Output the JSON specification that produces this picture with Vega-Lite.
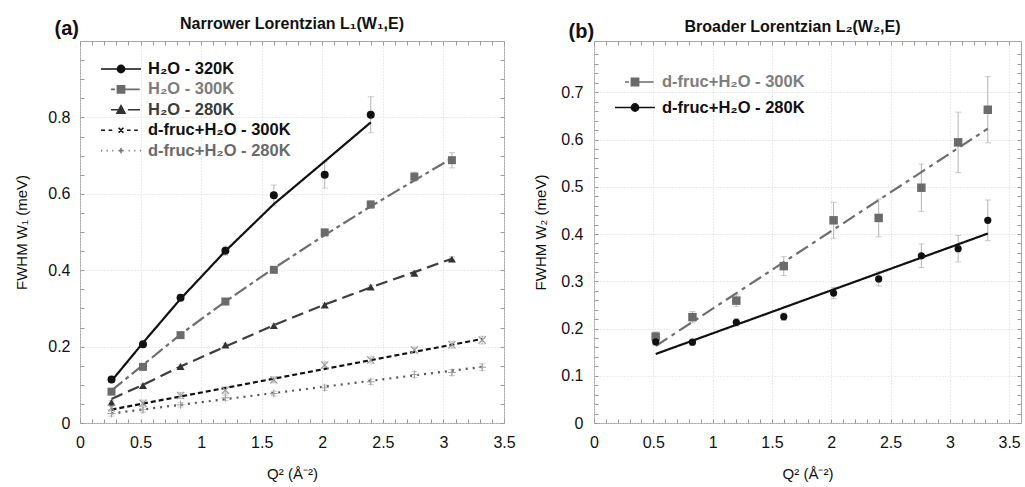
{
  "$schema": "https://vega.github.io/schema/vega-lite/v6.json",
  "padding": {"left": 14, "top": 15, "right": 0, "bottom": 0},
  "spacing": 17,
  "datasets": {
    "a_pts": [
      {"s": "H₂O - 320K", "q": 0.26, "w": 0.114, "lo": 0.108, "hi": 0.120},
      {"s": "H₂O - 320K", "q": 0.52, "w": 0.206, "lo": 0.198, "hi": 0.214},
      {"s": "H₂O - 320K", "q": 0.83, "w": 0.328, "lo": 0.320, "hi": 0.336},
      {"s": "H₂O - 320K", "q": 1.2, "w": 0.451, "lo": 0.439, "hi": 0.463},
      {"s": "H₂O - 320K", "q": 1.6, "w": 0.596, "lo": 0.569, "hi": 0.623},
      {"s": "H₂O - 320K", "q": 2.02, "w": 0.650, "lo": 0.615, "hi": 0.685},
      {"s": "H₂O - 320K", "q": 2.4, "w": 0.807, "lo": 0.760, "hi": 0.854},
      {"s": "H₂O - 300K", "q": 0.26, "w": 0.082, "lo": 0.077, "hi": 0.087},
      {"s": "H₂O - 300K", "q": 0.52, "w": 0.147, "lo": 0.142, "hi": 0.152},
      {"s": "H₂O - 300K", "q": 0.83, "w": 0.230, "lo": 0.224, "hi": 0.236},
      {"s": "H₂O - 300K", "q": 1.2, "w": 0.318, "lo": 0.310, "hi": 0.326},
      {"s": "H₂O - 300K", "q": 1.6, "w": 0.401, "lo": 0.393, "hi": 0.409},
      {"s": "H₂O - 300K", "q": 2.02, "w": 0.499, "lo": 0.491, "hi": 0.507},
      {"s": "H₂O - 300K", "q": 2.4, "w": 0.572, "lo": 0.562, "hi": 0.582},
      {"s": "H₂O - 300K", "q": 2.76, "w": 0.645, "lo": 0.633, "hi": 0.657},
      {"s": "H₂O - 300K", "q": 3.07, "w": 0.688, "lo": 0.668, "hi": 0.708},
      {"s": "H₂O - 280K", "q": 0.26, "w": 0.054, "lo": 0.050, "hi": 0.058},
      {"s": "H₂O - 280K", "q": 0.52, "w": 0.098, "lo": 0.094, "hi": 0.102},
      {"s": "H₂O - 280K", "q": 0.83, "w": 0.148, "lo": 0.144, "hi": 0.152},
      {"s": "H₂O - 280K", "q": 1.2, "w": 0.204, "lo": 0.199, "hi": 0.209},
      {"s": "H₂O - 280K", "q": 1.6, "w": 0.255, "lo": 0.250, "hi": 0.260},
      {"s": "H₂O - 280K", "q": 2.02, "w": 0.309, "lo": 0.304, "hi": 0.314},
      {"s": "H₂O - 280K", "q": 2.4, "w": 0.356, "lo": 0.351, "hi": 0.361},
      {"s": "H₂O - 280K", "q": 2.76, "w": 0.392, "lo": 0.386, "hi": 0.398},
      {"s": "H₂O - 280K", "q": 3.07, "w": 0.429, "lo": 0.423, "hi": 0.435},
      {"s": "d-fruc+H₂O - 300K", "q": 0.26, "w": 0.040, "lo": 0.032, "hi": 0.048},
      {"s": "d-fruc+H₂O - 300K", "q": 0.52, "w": 0.052, "lo": 0.044, "hi": 0.060},
      {"s": "d-fruc+H₂O - 300K", "q": 0.83, "w": 0.072, "lo": 0.064, "hi": 0.080},
      {"s": "d-fruc+H₂O - 300K", "q": 1.2, "w": 0.086, "lo": 0.078, "hi": 0.094},
      {"s": "d-fruc+H₂O - 300K", "q": 1.6, "w": 0.113, "lo": 0.105, "hi": 0.121},
      {"s": "d-fruc+H₂O - 300K", "q": 2.02, "w": 0.152, "lo": 0.144, "hi": 0.160},
      {"s": "d-fruc+H₂O - 300K", "q": 2.4, "w": 0.165, "lo": 0.157, "hi": 0.173},
      {"s": "d-fruc+H₂O - 300K", "q": 2.76, "w": 0.191, "lo": 0.183, "hi": 0.199},
      {"s": "d-fruc+H₂O - 300K", "q": 3.07, "w": 0.205, "lo": 0.196, "hi": 0.214},
      {"s": "d-fruc+H₂O - 300K", "q": 3.32, "w": 0.217, "lo": 0.207, "hi": 0.227},
      {"s": "d-fruc+H₂O - 280K", "q": 0.26, "w": 0.025, "lo": 0.018, "hi": 0.032},
      {"s": "d-fruc+H₂O - 280K", "q": 0.52, "w": 0.035, "lo": 0.028, "hi": 0.042},
      {"s": "d-fruc+H₂O - 280K", "q": 0.83, "w": 0.048, "lo": 0.042, "hi": 0.054},
      {"s": "d-fruc+H₂O - 280K", "q": 1.2, "w": 0.066, "lo": 0.059, "hi": 0.073},
      {"s": "d-fruc+H₂O - 280K", "q": 1.6, "w": 0.077, "lo": 0.071, "hi": 0.083},
      {"s": "d-fruc+H₂O - 280K", "q": 2.02, "w": 0.092, "lo": 0.085, "hi": 0.099},
      {"s": "d-fruc+H₂O - 280K", "q": 2.4, "w": 0.108, "lo": 0.101, "hi": 0.115},
      {"s": "d-fruc+H₂O - 280K", "q": 2.76, "w": 0.127, "lo": 0.119, "hi": 0.135},
      {"s": "d-fruc+H₂O - 280K", "q": 3.07, "w": 0.132, "lo": 0.124, "hi": 0.140},
      {"s": "d-fruc+H₂O - 280K", "q": 3.32, "w": 0.146, "lo": 0.137, "hi": 0.155}
    ],
    "a_fit": [
      {"s": "H₂O - 320K", "q": 0.26, "w": 0.11},
      {"s": "H₂O - 320K", "q": 0.52, "w": 0.21},
      {"s": "H₂O - 320K", "q": 0.83, "w": 0.325},
      {"s": "H₂O - 320K", "q": 1.2, "w": 0.45},
      {"s": "H₂O - 320K", "q": 1.6, "w": 0.573},
      {"s": "H₂O - 320K", "q": 2.02, "w": 0.685},
      {"s": "H₂O - 320K", "q": 2.4, "w": 0.787},
      {"s": "H₂O - 300K", "q": 0.26, "w": 0.085},
      {"s": "H₂O - 300K", "q": 0.52, "w": 0.152},
      {"s": "H₂O - 300K", "q": 0.83, "w": 0.232},
      {"s": "H₂O - 300K", "q": 1.2, "w": 0.318},
      {"s": "H₂O - 300K", "q": 1.6, "w": 0.405},
      {"s": "H₂O - 300K", "q": 2.02, "w": 0.492},
      {"s": "H₂O - 300K", "q": 2.4, "w": 0.567},
      {"s": "H₂O - 300K", "q": 2.76, "w": 0.635},
      {"s": "H₂O - 300K", "q": 3.07, "w": 0.693},
      {"s": "H₂O - 280K", "q": 0.26, "w": 0.063},
      {"s": "H₂O - 280K", "q": 0.52, "w": 0.1},
      {"s": "H₂O - 280K", "q": 0.83, "w": 0.148},
      {"s": "H₂O - 280K", "q": 1.2, "w": 0.2},
      {"s": "H₂O - 280K", "q": 1.6, "w": 0.256},
      {"s": "H₂O - 280K", "q": 2.02, "w": 0.31},
      {"s": "H₂O - 280K", "q": 2.4, "w": 0.355},
      {"s": "H₂O - 280K", "q": 2.76, "w": 0.395},
      {"s": "H₂O - 280K", "q": 3.07, "w": 0.43},
      {"s": "d-fruc+H₂O - 300K", "q": 0.26, "w": 0.035},
      {"s": "d-fruc+H₂O - 300K", "q": 3.32, "w": 0.22},
      {"s": "d-fruc+H₂O - 280K", "q": 0.26, "w": 0.025},
      {"s": "d-fruc+H₂O - 280K", "q": 3.32, "w": 0.147}
    ],
    "b_pts": [
      {"s": "d-fruc+H₂O - 300K", "q": 0.52, "w": 0.183, "lo": 0.173, "hi": 0.193},
      {"s": "d-fruc+H₂O - 300K", "q": 0.83, "w": 0.224, "lo": 0.212, "hi": 0.236},
      {"s": "d-fruc+H₂O - 300K", "q": 1.2, "w": 0.259, "lo": 0.247, "hi": 0.271},
      {"s": "d-fruc+H₂O - 300K", "q": 1.6, "w": 0.332, "lo": 0.312, "hi": 0.352},
      {"s": "d-fruc+H₂O - 300K", "q": 2.02, "w": 0.429, "lo": 0.391, "hi": 0.467},
      {"s": "d-fruc+H₂O - 300K", "q": 2.4, "w": 0.434, "lo": 0.394, "hi": 0.474},
      {"s": "d-fruc+H₂O - 300K", "q": 2.76, "w": 0.498, "lo": 0.448, "hi": 0.548},
      {"s": "d-fruc+H₂O - 300K", "q": 3.07, "w": 0.594, "lo": 0.530, "hi": 0.658},
      {"s": "d-fruc+H₂O - 300K", "q": 3.32, "w": 0.663, "lo": 0.593, "hi": 0.733},
      {"s": "d-fruc+H₂O - 280K", "q": 0.52, "w": 0.172, "lo": 0.164, "hi": 0.180},
      {"s": "d-fruc+H₂O - 280K", "q": 0.83, "w": 0.171, "lo": 0.165, "hi": 0.177},
      {"s": "d-fruc+H₂O - 280K", "q": 1.2, "w": 0.213, "lo": 0.205, "hi": 0.221},
      {"s": "d-fruc+H₂O - 280K", "q": 1.6, "w": 0.225, "lo": 0.217, "hi": 0.233},
      {"s": "d-fruc+H₂O - 280K", "q": 2.02, "w": 0.275, "lo": 0.263, "hi": 0.287},
      {"s": "d-fruc+H₂O - 280K", "q": 2.4, "w": 0.305, "lo": 0.290, "hi": 0.320},
      {"s": "d-fruc+H₂O - 280K", "q": 2.76, "w": 0.354, "lo": 0.329, "hi": 0.379},
      {"s": "d-fruc+H₂O - 280K", "q": 3.07, "w": 0.369, "lo": 0.341, "hi": 0.397},
      {"s": "d-fruc+H₂O - 280K", "q": 3.32, "w": 0.429, "lo": 0.386, "hi": 0.472}
    ],
    "b_fit": [
      {"s": "d-fruc+H₂O - 300K", "q": 0.52, "w": 0.163},
      {"s": "d-fruc+H₂O - 300K", "q": 3.32, "w": 0.623},
      {"s": "d-fruc+H₂O - 280K", "q": 0.52, "w": 0.146},
      {"s": "d-fruc+H₂O - 280K", "q": 3.32, "w": 0.401}
    ]
  },
  "hconcat": [
    {
      "width": 424,
      "height": 382,
      "title": {"text": "Narrower Lorentzian L₁(W₁,E)", "frame": "group", "anchor": "middle", "offset": -14},
      "layer": [
        {
          "data": {"name": "a_pts"},
          "mark": {"type": "errorbar", "ticks": true, "size": 6, "thickness": 1, "color": "#b3b3b3"},
          "encoding": {
            "x": {"field": "q", "type": "quantitative", "scale": {"domain": [0, 3.5], "nice": false, "zero": false},
              "axis": {"orient": "bottom", "values": [0, 0.5, 1, 1.5, 2, 2.5, 3, 3.5], "format": "~g", "grid": true, "labelPadding": 11, "title": "Q² (Å⁻²)", "titlePadding": 16}},
            "y": {"field": "lo", "type": "quantitative", "scale": {"domain": [0, 1], "nice": false},
              "axis": {"orient": "left", "values": [0, 0.2, 0.4, 0.6, 0.8], "format": "~g", "grid": true, "labelPadding": 10, "title": "FWHM W₁ (meV)", "titlePadding": 18}},
            "y2": {"field": "hi"}
          }
        },
        {
          "data": {"name": "a_fit"},
          "mark": {"type": "line", "strokeWidth": 2.2},
          "encoding": {
            "x": {"field": "q", "type": "quantitative",
              "axis": {"orient": "bottom", "offset": -4, "values": [0,0.1,0.2,0.3,0.4,0.5,0.6,0.7,0.8,0.9,1,1.1,1.2,1.3,1.4,1.5,1.6,1.7,1.8,1.9,2,2.1,2.2,2.3,2.4,2.5,2.6,2.7,2.8,2.9,3,3.1,3.2,3.3,3.4,3.5], "labels": false, "ticks": true, "tickSize": 4, "title": null}},
            "y": {"field": "w", "type": "quantitative",
              "axis": {"orient": "left", "offset": -4, "values": [0,0.05,0.1,0.15,0.2,0.25,0.3,0.35,0.4,0.45,0.5,0.55,0.6,0.65,0.7,0.75,0.8,0.85,0.9,0.95], "labels": false, "ticks": true, "tickSize": 4,
                "title": "(a)", "titleAngle": 0, "titleAlign": "left", "titleBaseline": "alphabetic", "titleX": -30, "titleY": -7, "titleFontSize": 20, "titleFontWeight": "bold"}},
            "color": {"field": "s", "type": "nominal", "legend": null,
              "scale": {"domain": ["H₂O - 320K", "H₂O - 300K", "H₂O - 280K", "d-fruc+H₂O - 300K", "d-fruc+H₂O - 280K"], "range": ["#111111", "#6e6e6e", "#3d3d3d", "#111111", "#555555"]}},
            "strokeDash": {"field": "s", "type": "nominal", "legend": null,
              "scale": {"domain": ["H₂O - 320K", "H₂O - 300K", "H₂O - 280K", "d-fruc+H₂O - 300K", "d-fruc+H₂O - 280K"], "range": [[1, 0], [14, 4, 4, 4], [12, 6], [5, 3], [2, 5]]}}
          }
        },
        {
          "data": {"name": "a_pts"},
          "mark": {"type": "point", "filled": true, "opacity": 1, "size": 64},
          "encoding": {
            "x": {"field": "q", "type": "quantitative",
              "axis": {"orient": "top", "offset": -4, "values": [0,0.1,0.2,0.3,0.4,0.5,0.6,0.7,0.8,0.9,1,1.1,1.2,1.3,1.4,1.5,1.6,1.7,1.8,1.9,2,2.1,2.2,2.3,2.4,2.5,2.6,2.7,2.8,2.9,3,3.1,3.2,3.3,3.4,3.5], "labels": false, "ticks": true, "tickSize": 4, "title": null}},
            "y": {"field": "w", "type": "quantitative",
              "axis": {"orient": "right", "offset": -4, "values": [0,0.05,0.1,0.15,0.2,0.25,0.3,0.35,0.4,0.45,0.5,0.55,0.6,0.65,0.7,0.75,0.8,0.85,0.9,0.95], "labels": false, "ticks": true, "tickSize": 4, "title": null}},
            "color": {"field": "s", "type": "nominal", "legend": null,
              "scale": {"domain": ["H₂O - 320K", "H₂O - 300K", "H₂O - 280K", "d-fruc+H₂O - 300K", "d-fruc+H₂O - 280K"], "range": ["#111111", "#6b6b6b", "#333333", "#9a9a9a", "#a0a0a0"]}},
            "shape": {"field": "s", "type": "nominal", "legend": null,
              "scale": {"domain": ["H₂O - 320K", "H₂O - 300K", "H₂O - 280K", "d-fruc+H₂O - 300K", "d-fruc+H₂O - 280K"],
                "range": ["circle", "square", "triangle-up", "M-1,-0.8L-0.8,-1L0,-0.2L0.8,-1L1,-0.8L0.2,0L1,0.8L0.8,1L0,0.2L-0.8,1L-1,0.8L-0.2,0Z", "M-1,-0.12H-0.12V-1H0.12V-0.12H1V0.12H0.12V1H-0.12V0.12H-1Z"]}}
          }
        },
        {
          "data": {"name": "a_fit"},
          "mark": {"type": "point", "filled": true, "opacity": 0, "size": 1600},
          "encoding": {
            "x": {"field": "q", "type": "quantitative", "axis": null},
            "y": {"field": "w", "type": "quantitative", "axis": null},
            "shape": {"field": "s", "type": "nominal",
              "scale": {"domain": ["H₂O - 320K", "H₂O - 300K", "H₂O - 280K", "d-fruc+H₂O - 300K", "d-fruc+H₂O - 280K"],
                "range": [
                  "M-1,0H1M-0.18,0A0.18,0.18,0,1,1,0.18,0A0.18,0.18,0,1,1,-0.18,0Z",
                  "M-0.5,0H-0.3M-0.18,-0.18H0.18V0.18H-0.18ZM0.18,0H0.93",
                  "M-0.5,0H-0.15M-0.2,0.17L0,-0.2L0.2,0.17ZM0.35,0H0.95",
                  "M-1,0H-0.8M-0.62,0H-0.44M-0.12,-0.12L0.12,0.12M-0.12,0.12L0.12,-0.12M0.3,0H0.48M0.66,0H0.84",
                  "M-1,0H-0.94M-0.72,0H-0.66M-0.44,0H-0.38M-0.13,0H0.13M0,-0.13V0.13M0.38,0H0.44M0.66,0H0.72M0.94,0H1"
                ]},
              "legend": {"orient": "none", "legendX": 20, "legendY": 19, "title": null, "symbolSize": 1600, "symbolStrokeWidth": 1.6, "symbolOpacity": 1,
                "labelFontSize": 16.5, "labelFontWeight": "bold", "labelOffset": 6, "clipHeight": 18, "rowPadding": 2.4,
                "labelColor": {"expr": "datum.value == 'H₂O - 300K' ? '#7d7d7d' : datum.value == 'H₂O - 280K' ? '#3c3c3c' : datum.value == 'd-fruc+H₂O - 280K' ? '#6a6a6a' : '#111111'"}}},
            "fill": {"field": "s", "type": "nominal",
              "scale": {"domain": ["H₂O - 320K", "H₂O - 300K", "H₂O - 280K", "d-fruc+H₂O - 300K", "d-fruc+H₂O - 280K"], "range": ["#111111", "#6b6b6b", "#333333", "#111111", "#777777"]}},
            "stroke": {"field": "s", "type": "nominal",
              "scale": {"domain": ["H₂O - 320K", "H₂O - 300K", "H₂O - 280K", "d-fruc+H₂O - 300K", "d-fruc+H₂O - 280K"], "range": ["#111111", "#6b6b6b", "#333333", "#111111", "#777777"]}}
          }
        }
      ],
      "resolve": {"scale": {"color": "independent", "shape": "independent", "strokeDash": "independent", "fill": "independent", "stroke": "independent"}, "axis": {"x": "independent", "y": "independent"}}
    },
    {
      "width": 427,
      "height": 382,
      "title": {"text": "Broader Lorentzian L₂(W₂,E)", "frame": "group", "anchor": "middle", "offset": -14, "dx": -15},
      "layer": [
        {
          "data": {"name": "b_pts"},
          "mark": {"type": "errorbar", "ticks": true, "size": 6, "thickness": 1, "color": "#b3b3b3"},
          "encoding": {
            "x": {"field": "q", "type": "quantitative", "scale": {"domain": [0, 3.6], "nice": false, "zero": false},
              "axis": {"orient": "bottom", "values": [0, 0.5, 1, 1.5, 2, 2.5, 3, 3.5], "format": "~g", "grid": true, "labelPadding": 11, "title": "Q² (Å⁻²)", "titlePadding": 16}},
            "y": {"field": "lo", "type": "quantitative", "scale": {"domain": [0, 0.8085], "nice": false},
              "axis": {"orient": "left", "values": [0, 0.1, 0.2, 0.3, 0.4, 0.5, 0.6, 0.7], "format": "~g", "grid": true, "labelPadding": 11, "title": "FWHM W₂ (meV)", "titlePadding": 12}},
            "y2": {"field": "hi"}
          }
        },
        {
          "data": {"name": "b_fit"},
          "mark": {"type": "line", "strokeWidth": 2.2},
          "encoding": {
            "x": {"field": "q", "type": "quantitative",
              "axis": {"orient": "bottom", "offset": -4, "values": [0,0.1,0.2,0.3,0.4,0.5,0.6,0.7,0.8,0.9,1,1.1,1.2,1.3,1.4,1.5,1.6,1.7,1.8,1.9,2,2.1,2.2,2.3,2.4,2.5,2.6,2.7,2.8,2.9,3,3.1,3.2,3.3,3.4,3.5], "labels": false, "ticks": true, "tickSize": 4, "title": null}},
            "y": {"field": "w", "type": "quantitative",
              "axis": {"orient": "left", "offset": -4, "values": [0,0.02,0.04,0.06,0.08,0.1,0.12,0.14,0.16,0.18,0.2,0.22,0.24,0.26,0.28,0.3,0.32,0.34,0.36,0.38,0.4,0.42,0.44,0.46,0.48,0.5,0.52,0.54,0.56,0.58,0.6,0.62,0.64,0.66,0.68,0.7,0.72,0.74,0.76,0.78], "labels": false, "ticks": true, "tickSize": 4,
                "title": "(b)", "titleAngle": 0, "titleAlign": "left", "titleBaseline": "alphabetic", "titleX": -30, "titleY": -4, "titleFontSize": 20, "titleFontWeight": "bold"}},
            "color": {"field": "s", "type": "nominal", "legend": null,
              "scale": {"domain": ["d-fruc+H₂O - 300K", "d-fruc+H₂O - 280K"], "range": ["#6e6e6e", "#111111"]}},
            "strokeDash": {"field": "s", "type": "nominal", "legend": null,
              "scale": {"domain": ["d-fruc+H₂O - 300K", "d-fruc+H₂O - 280K"], "range": [[14, 5, 4, 5], [1, 0]]}}
          }
        },
        {
          "data": {"name": "b_pts"},
          "mark": {"type": "point", "filled": true, "opacity": 1},
          "encoding": {
            "x": {"field": "q", "type": "quantitative",
              "axis": {"orient": "top", "offset": -4, "values": [0,0.1,0.2,0.3,0.4,0.5,0.6,0.7,0.8,0.9,1,1.1,1.2,1.3,1.4,1.5,1.6,1.7,1.8,1.9,2,2.1,2.2,2.3,2.4,2.5,2.6,2.7,2.8,2.9,3,3.1,3.2,3.3,3.4,3.5], "labels": false, "ticks": true, "tickSize": 4, "title": null}},
            "y": {"field": "w", "type": "quantitative",
              "axis": {"orient": "right", "offset": -4, "values": [0,0.02,0.04,0.06,0.08,0.1,0.12,0.14,0.16,0.18,0.2,0.22,0.24,0.26,0.28,0.3,0.32,0.34,0.36,0.38,0.4,0.42,0.44,0.46,0.48,0.5,0.52,0.54,0.56,0.58,0.6,0.62,0.64,0.66,0.68,0.7,0.72,0.74,0.76,0.78], "labels": false, "ticks": true, "tickSize": 4, "title": null}},
            "color": {"field": "s", "type": "nominal", "legend": null,
              "scale": {"domain": ["d-fruc+H₂O - 300K", "d-fruc+H₂O - 280K"], "range": ["#6b6b6b", "#111111"]}},
            "shape": {"field": "s", "type": "nominal", "legend": null,
              "scale": {"domain": ["d-fruc+H₂O - 300K", "d-fruc+H₂O - 280K"], "range": ["square", "circle"]}},
            "size": {"field": "s", "type": "nominal", "legend": null,
              "scale": {"domain": ["d-fruc+H₂O - 300K", "d-fruc+H₂O - 280K"], "range": [72, 52]}}
          }
        },
        {
          "data": {"name": "b_fit"},
          "mark": {"type": "point", "filled": true, "opacity": 0, "size": 1600},
          "encoding": {
            "x": {"field": "q", "type": "quantitative", "axis": null},
            "y": {"field": "w", "type": "quantitative", "axis": null},
            "shape": {"field": "s", "type": "nominal",
              "scale": {"domain": ["d-fruc+H₂O - 300K", "d-fruc+H₂O - 280K"],
                "range": [
                  "M-0.5,0H-0.3M-0.18,-0.18H0.18V0.18H-0.18ZM0.18,0H0.93",
                  "M-1,0H1M-0.18,0A0.18,0.18,0,1,1,0.18,0A0.18,0.18,0,1,1,-0.18,0Z"
                ]},
              "legend": {"orient": "none", "legendX": 20, "legendY": 31, "title": null, "symbolSize": 1600, "symbolStrokeWidth": 1.6, "symbolOpacity": 1,
                "labelFontSize": 16.5, "labelFontWeight": "bold", "labelOffset": 6, "clipHeight": 20, "rowPadding": 5.5,
                "labelColor": {"expr": "datum.value == 'd-fruc+H₂O - 300K' ? '#7d7d7d' : '#111111'"}}},
            "fill": {"field": "s", "type": "nominal",
              "scale": {"domain": ["d-fruc+H₂O - 300K", "d-fruc+H₂O - 280K"], "range": ["#6b6b6b", "#111111"]}},
            "stroke": {"field": "s", "type": "nominal",
              "scale": {"domain": ["d-fruc+H₂O - 300K", "d-fruc+H₂O - 280K"], "range": ["#6b6b6b", "#111111"]}}
          }
        }
      ],
      "resolve": {"scale": {"color": "independent", "shape": "independent", "strokeDash": "independent", "fill": "independent", "stroke": "independent", "size": "independent"}, "axis": {"x": "independent", "y": "independent"}}
    }
  ],
  "config": {
    "font": "Liberation Sans",
    "view": {"stroke": "#a6a6a6", "strokeWidth": 1},
    "axis": {"labelFontSize": 16, "labelColor": "#111111", "titleFontSize": 15, "titleFontWeight": "normal", "titleColor": "#111111",
      "domain": false, "ticks": false, "tickColor": "#9a9a9a", "tickWidth": 1, "gridColor": "#d6d6d6", "gridDash": [1, 2], "gridWidth": 1, "labelFlush": false},
    "title": {"fontSize": 16, "fontWeight": "bold", "color": "#111111"},
    "legend": {"labelFont": "Liberation Sans"}
  }
}
